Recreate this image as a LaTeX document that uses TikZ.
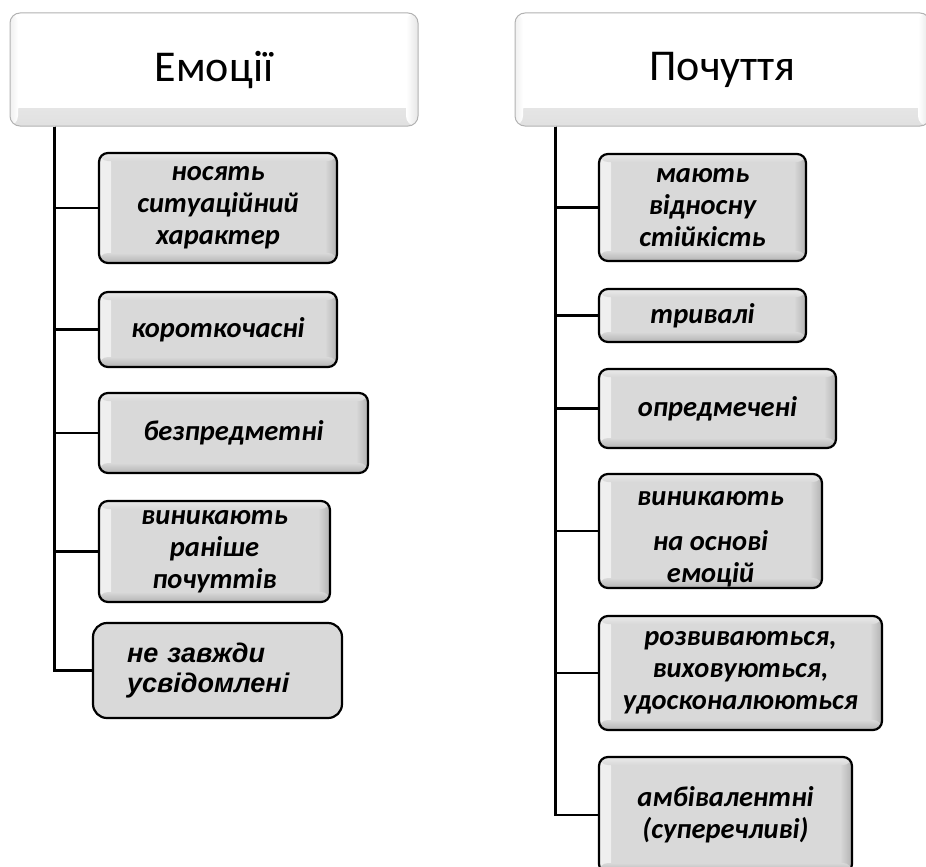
\documentclass[tikz,border=0pt]{standalone}
\usepackage{fontspec}
\setmainfont{Carlito}
\newfontfamily\arialf{Liberation Sans}
\usetikzlibrary{calc}
\tikzset{
  bevelbox/.style={draw=black, line width=2.2pt, rounded corners=9pt, fill=black!15,
    align=center, inner sep=0pt,
    font=\fontsize{28.5}{32}\selectfont\bfseries\itshape,
    path picture={
      \shade[left color=black!6, right color=black!15]
        (path picture bounding box.north west) rectangle ([xshift=12pt]path picture bounding box.south west);
      \shade[left color=black!15, right color=black!30]
        ([xshift=-12pt]path picture bounding box.north east) rectangle (path picture bounding box.south east);
      \shade[top color=black!15, bottom color=black!30]
        ([yshift=10pt]path picture bounding box.south west) rectangle (path picture bounding box.south east);
      \shade[top color=black!8, bottom color=black!15]
        (path picture bounding box.north west) rectangle ([yshift=-8pt]path picture bounding box.north east);
    }},
  flatbox/.style={draw=black, line width=2.2pt, rounded corners=14pt, fill=black!15,
    align=left, inner sep=0pt,
    font=\fontsize{27}{30}\selectfont\arialf\bfseries\itshape},
  headbox/.style={draw=black!30, line width=1pt, rounded corners=10pt, fill=white,
    align=center, inner sep=0pt, font=\fontsize{44}{50}\selectfont,
    path picture={
      \shade[top color=white, bottom color=black!12]
        ([yshift=18pt]path picture bounding box.south west) rectangle (path picture bounding box.south east);
      \shade[left color=white, right color=black!10]
        ([xshift=-12pt]path picture bounding box.north east) rectangle (path picture bounding box.south east);
      \shade[left color=black!6, right color=white]
        (path picture bounding box.north west) rectangle ([xshift=8pt]path picture bounding box.south west);
    }},
  conn/.style={draw=black, line width=2.2pt},
}
\begin{document}
\begin{tikzpicture}[x=1pt,y=-1pt]
\useasboundingbox (0,0) rectangle (926,867);
\clip (0,0) rectangle (926,867);

% headers
\node[headbox, minimum width=408pt, minimum height=113pt] (hL) at (214,69.5) {Емоції};
\node[headbox, minimum width=415pt, minimum height=113pt] (hR) at (722.5,69.5) {Почуття};

% left items
\node[bevelbox, minimum width=238pt, minimum height=110pt] (e1) at (218,208) {носять\\ситуаційний\\характер};
\node[bevelbox, minimum width=238pt, minimum height=75pt] (e2) at (218,329.5) {короткочасні};
\node[bevelbox, minimum width=269pt, minimum height=80pt] (e3) at (233.5,433) {безпредметні};
\node[bevelbox, minimum width=231pt, minimum height=101pt] (e4) at (214.5,551.5) {виникають\\раніше\\почуттів};
\node[flatbox, minimum width=249pt, minimum height=95pt, text width=181pt] (e5) at (217.5,670.5) {не завжди\\усвідомлені};

% right items
\node[bevelbox, minimum width=207pt, minimum height=107pt] (p1) at (702.5,207.5) {мають\\відносну\\стійкість};
\node[bevelbox, minimum width=207pt, minimum height=53pt] (p2) at (702.5,315.5) {тривалі};
\node[bevelbox, minimum width=237pt, minimum height=79pt] (p3) at (717.5,408.5) {опредмечені};
\node[bevelbox, minimum width=223pt, minimum height=114pt] (p4) at (710.5,531) {\rule{0pt}{30pt}виникають\\[13pt]на основі\\емоцій};
\node[bevelbox, minimum width=283pt, minimum height=114pt] (p5) at (740.5,673) {розвиваються,\\виховуються,\\удосконалюються};
\node[bevelbox, minimum width=253pt, minimum height=116pt] (p6) at (725.5,815) {амбівалентні\\(суперечливі)};

% connectors
\coordinate (tL) at ([xshift=45pt]hL.south west);
\coordinate (tR) at ([xshift=41pt]hR.south west);
\foreach \n in {e1,e2,e3,e4,e5} \draw[conn] (tL) |- (\n.west);
\foreach \n in {p1,p2,p3,p4,p5,p6} \draw[conn] (tR) |- (\n.west);
\end{tikzpicture}
\end{document}
